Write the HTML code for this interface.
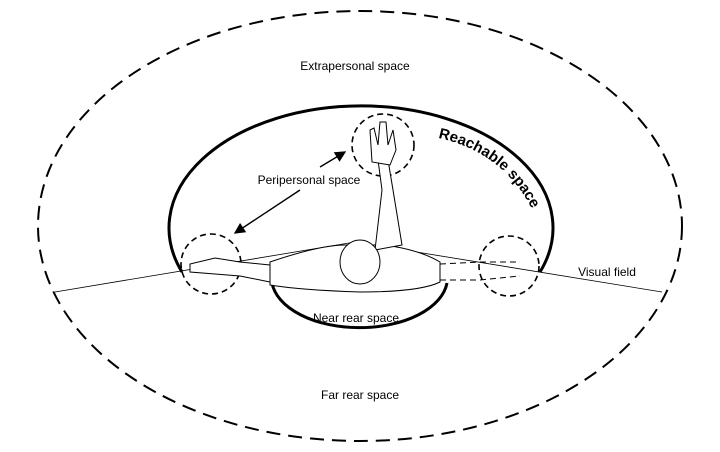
<!DOCTYPE html>
<html><head><style>body{margin:0;background:#fff}svg{display:block}</style></head><body>
<svg width="720" height="452" viewBox="0 0 720 452" font-family="Liberation Sans, sans-serif">
<defs><marker id="a" markerWidth="8" markerHeight="8" refX="7" refY="4" orient="auto"><path d="M0,0L8,4L0,8z" fill="#000"/></marker>
<path id="rp" d="M438,138 Q505,152 535,215"/></defs>
<ellipse cx="360" cy="226" rx="322" ry="215" fill="none" stroke="#000" stroke-width="2" stroke-dasharray="14,8"/>
<path d="M182,272 A192,122 0 1 1 540,272" fill="none" stroke="#000" stroke-width="3"/>
<path d="M272,283 A88,50 0 0 0 447,283" fill="none" stroke="#000" stroke-width="3"/>
<g fill="none" stroke="#000" stroke-width="1.6" stroke-dasharray="6,4">
<circle cx="211" cy="264" r="30"/><circle cx="383" cy="145" r="31"/><circle cx="509" cy="266" r="30"/></g>
<polyline points="55,292 355,242 662,292" fill="none" stroke="#000" stroke-width="0.8"/>
<line x1="300" y1="190" x2="235" y2="233" stroke="#000" stroke-width="1.4" marker-end="url(#a)"/>
<line x1="320" y1="167" x2="345" y2="152" stroke="#000" stroke-width="1.4" marker-end="url(#a)"/>
<g fill="#fff" stroke="#000" stroke-width="1">
<path d="M270,262 Q320,245 345,245 L385,245 Q420,250 440,262 L440,282 Q420,292 360,292 Q300,290 270,285 z"/>
<path d="M375,250 L382,190 L378,160 L388,160 L393,190 L402,245 z"/>
<path d="M372,162 L370,130 L374,128 L378,145 L380,122 L386,122 L388,145 L393,130 L396,150 L390,165 z"/>
<path d="M270,265 L240,262 L215,258 L190,264 L190,272 L215,274 L240,276 L270,282 z"/>
<ellipse cx="360" cy="262" rx="20" ry="22"/>
</g>
<path d="M440,264 L480,262 L520,262 M440,280 L480,280 L520,276" fill="none" stroke="#000" stroke-dasharray="6,4"/>
<g font-size="12" text-anchor="middle" fill="#000">
<text x="355" y="70">Extrapersonal space</text>
<text x="309" y="184">Peripersonal space</text>
<text x="356" y="322">Near rear space</text>
<text x="360" y="399">Far rear space</text>
<text x="607" y="276">Visual field</text>
</g>
<text font-size="15" font-weight="bold"><textPath href="#rp">Reachable space</textPath></text>
</svg>
</body></html>
